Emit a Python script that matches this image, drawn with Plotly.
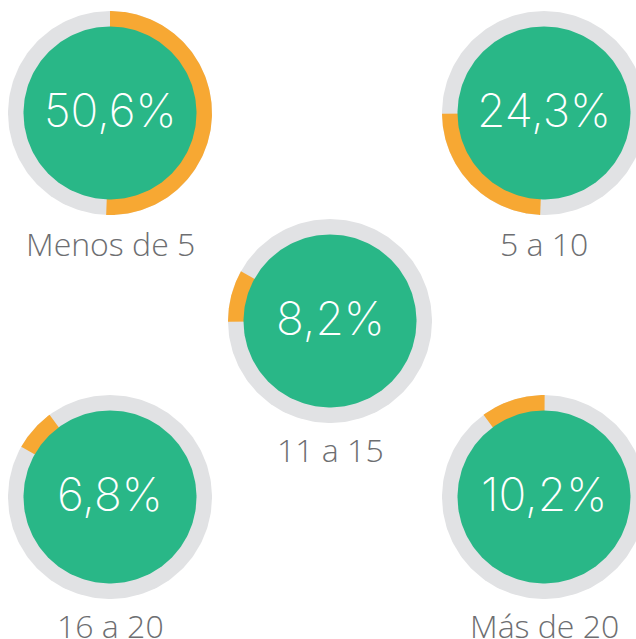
import numpy as np
import plotly.graph_objects as go

# data
categories = ["Menos de 5", "5 a 10", "11 a 15", "16 a 20", "Más de 20"]
percentages = [50.6, 24.3, 8.2, 6.8, 10.2]
pct_labels = ["50,6%", "24,3%", "8,2%", "6,8%", "10,2%"]

# layout (pixel coords of the page, y downwards)
centres = [(110, 113), (544, 113), (330, 321), (110, 497), (544, 497)]
label_y = [243, 243, 449, 625, 625]
R_OUT, R_IN = 102, 86.5

GREY = "#e1e2e4"
ORANGE = "#f7a833"
GREEN = "#29b787"
TEXT_GREY = "#6d6e71"


def arc(cx, cy, r, a0, a1, n=240):
    # angles in degrees, clockwise from 12 o'clock
    t = np.radians(np.linspace(a0, a1, n))
    return cx + r * np.sin(t), cy - r * np.cos(t)


fig = go.Figure()

# each orange arc starts where the previous one ended
starts = np.concatenate([[0], np.cumsum(percentages)[:-1]])

for (cx, cy), pct, start in zip(centres, percentages, starts):
    x, y = arc(cx, cy, R_OUT, 0, 360)
    fig.add_trace(go.Scatter(x=x, y=y, fill="toself", fillcolor=GREY, mode="lines",
                             line=dict(width=0), hoverinfo="skip"))
    x, y = arc(cx, cy, R_OUT, start * 3.6, (start + pct) * 3.6)
    fig.add_trace(go.Scatter(x=np.r_[cx, x, cx], y=np.r_[cy, y, cy], fill="toself",
                             fillcolor=ORANGE, mode="lines", line=dict(width=0),
                             hoverinfo="skip"))
    x, y = arc(cx, cy, R_IN, 0, 360)
    fig.add_trace(go.Scatter(x=x, y=y, fill="toself", fillcolor=GREEN, mode="lines",
                             line=dict(width=0), hoverinfo="skip"))

for (cx, cy), txt, cat, ly in zip(centres, pct_labels, categories, label_y):
    fig.add_annotation(x=cx, y=cy, text=txt, showarrow=False, yshift=3,
                       font=dict(family="Inter", size=46, color="white", weight=200))
    fig.add_annotation(x=cx, y=ly, text=cat, showarrow=False,
                       font=dict(family="Open Sans", size=32, color=TEXT_GREY, weight=300))

fig.update_layout(
    width=636, height=639,
    margin=dict(l=0, r=0, t=0, b=0),
    paper_bgcolor="white", plot_bgcolor="white",
    showlegend=False,
    xaxis=dict(range=[0, 636], visible=False, fixedrange=True),
    yaxis=dict(range=[639, 0], visible=False, fixedrange=True),
)

# drop the default page margin so the figure fills the window exactly
fig.write_html("out.html", config={"displayModeBar": False},
               post_script="document.body.style.margin='0';")
